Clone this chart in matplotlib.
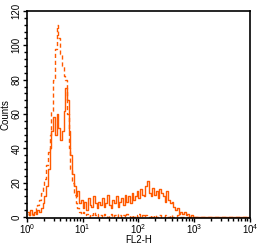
import matplotlib
matplotlib.use("Agg")
import matplotlib.pyplot as plt
import numpy as np
from matplotlib.ticker import MultipleLocator, LogLocator, NullFormatter

plt.rcParams['font.family'] = ['Liberation Sans', 'DejaVu Sans']

# channel positions: 32 channels per decade, 10^0 .. 10^4
channels_per_decade = 32
n_channels = 128

# solid histogram (sample)
solid_counts = [
    3, 1, 4, 2, 3, 2, 4, 3, 5, 8,
    12, 18, 28, 40, 50, 58, 48, 60, 52, 45,
    50, 62, 75, 68, 50, 36, 25, 18, 12, 15,
    8, 10, 5, 9, 4, 11, 7, 6, 12, 8,
    5, 9, 7, 11, 6, 8, 13, 7, 5, 10,
    8, 12, 6, 9, 11, 7, 13, 9, 12, 8,
    14, 10, 12, 15, 11, 16, 13, 12, 18, 21,
    14, 12, 17, 13, 15, 11, 16, 14, 12, 9,
    15, 10, 8, 9, 6, 4, 5, 2, 3, 2,
    3, 1, 2, 0, 1, 0, 0, 0, 0, 0,
    0, 0, 0, 0, 0, 0, 0, 0, 0, 0,
    0, 0, 0, 0, 0, 0, 0, 0, 0, 0,
    0, 0, 0, 0, 0, 0, 0, 0,
]

# dashed histogram (control)
dashed_counts = [
    2, 1, 2, 1, 3, 5, 7, 10, 14, 18,
    22, 30, 38, 48, 62, 80, 98, 112, 104, 95,
    88, 82, 80, 60, 40, 28, 20, 13, 8, 5,
    3, 2, 3, 1, 2, 0, 2, 1, 3, 1,
    0, 2, 1, 0, 2, 1, 0, 1, 2, 0,
    1, 0, 2, 1, 0, 1, 0, 2, 1, 0,
    1, 0, 1, 0, 2, 0, 1, 0, 1, 0,
    0, 1, 0, 1, 0, 0, 1, 0, 0, 1,
    0, 0, 1, 0, 0, 0, 1, 0, 0, 0,
    0, 0, 0, 0, 0, 0, 0, 0, 0, 0,
    0, 0, 0, 0, 0, 0, 0, 0, 0, 0,
    0, 0, 0, 0, 0, 0, 0, 0, 0, 0,
    0, 0, 0, 0, 0, 0, 0, 0,
]

x = 10 ** ((np.arange(n_channels) + 0.5) / channels_per_decade)
color = '#ff5a00'

fig = plt.figure(figsize=(2.61, 2.44), dpi=100)
ax = fig.add_axes([0.103, 0.108, 0.855, 0.847])

ax.plot(x, solid_counts, color=color, lw=1.0, drawstyle='steps-mid')
ax.plot(x, dashed_counts, color=color, lw=1.0, drawstyle='steps-mid',
        linestyle=(0, (3, 2)))

ax.set_xscale('log')
ax.set_xlim(1, 1e4)
ax.set_ylim(-0.4, 120)

ax.yaxis.set_major_locator(MultipleLocator(20))
ax.yaxis.set_minor_locator(MultipleLocator(4))
ax.xaxis.set_major_locator(LogLocator(base=10, numticks=10))
ax.xaxis.set_minor_locator(LogLocator(base=10, subs=np.arange(2, 10), numticks=10))
ax.xaxis.set_minor_formatter(NullFormatter())

ax.tick_params(axis='both', which='major', direction='out', length=3, width=1,
               labelsize=7, pad=1, colors='black')
ax.tick_params(axis='x', which='major', pad=0)
ax.tick_params(axis='both', which='minor', direction='out', length=2, width=1)
for lbl in ax.get_yticklabels():
    lbl.set_rotation(90)
    lbl.set_va('center')

for s in ax.spines.values():
    s.set_linewidth(1.2)

ax.set_xlabel('FL2-H', fontsize=7)
ax.xaxis.set_label_coords(0.5, -0.084)
ax.set_ylabel('Counts', fontsize=7, va='center')
ax.yaxis.set_label_coords(-0.095, 0.5)

fig.savefig('out.png', dpi=100)
